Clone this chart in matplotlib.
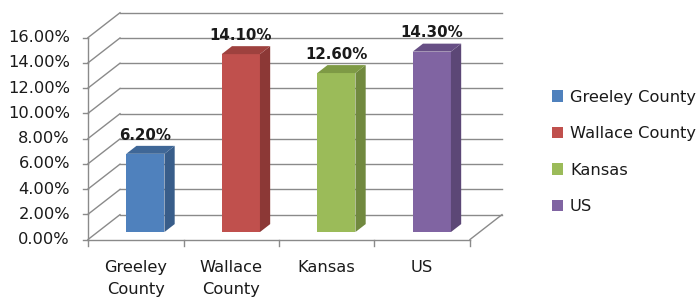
import matplotlib.pyplot as plt
from matplotlib.patches import Polygon, Patch

categories = ["Greeley\nCounty", "Wallace\nCounty", "Kansas", "US"]
legend_names = ["Greeley County", "Wallace County", "Kansas", "US"]
values = [6.2, 14.1, 12.6, 14.3]
value_labels = ["6.20%", "14.10%", "12.60%", "14.30%"]
y_ticks = [0, 2, 4, 6, 8, 10, 12, 14, 16]

front_cols = ["#4F81BD", "#C0504D", "#9BBB59", "#8064A2"]
side_cols = ["#385D8A", "#8C3836", "#71893F", "#5C4776"]
top_cols = ["#3F6797", "#9E413E", "#7E9A45", "#674F85"]

# depth of the 3d box (x in category units, y in percent)
DX = 0.335
DY = 1.97
BAR_W = 0.40
D0, D1 = 0.30, 0.62   # bar front/back as part of depth

grid_col = "#8a8a8a"
txt_col = "#1a1a1a"

fig = plt.figure(figsize=(6.99, 2.99), dpi=100)
ax = fig.add_axes([0, 0, 1, 1])
ax.set_xlim(-0.9215, 6.398)
ax.set_ylim(-4.715, 18.98)
ax.axis("off")

n = len(categories)

# walls / gridlines
for t in y_ticks:
    ax.plot([0, DX], [t, t + DY], color=grid_col, lw=1, zorder=1)
    ax.plot([DX, n + DX], [t + DY, t + DY], color=grid_col, lw=1, zorder=1)
    ax.plot([-0.055, 0], [t, t], color=grid_col, lw=1, zorder=1)
    ax.annotate(f"{t:.2f}%", (0, t), xytext=(-13, 0), textcoords="offset points",
                ha="right", va="center", fontsize=11.7, color=txt_col)
ax.plot([0, 0], [0, y_ticks[-1]], color=grid_col, lw=1, zorder=1)
ax.plot([0, n], [0, 0], color=grid_col, lw=1, zorder=1)
ax.plot([n, n + DX], [0, DY], color=grid_col, lw=1, zorder=1)
for i in range(n + 1):
    ax.plot([i, i], [0, -0.55], color=grid_col, lw=1, zorder=1)

# bars
for i, v in enumerate(values):
    c = i + 0.5
    fx0 = c - BAR_W / 2 + D0 * DX
    fx1 = c + BAR_W / 2 + D0 * DX
    fy0 = D0 * DY
    fy1 = v + D0 * DY
    ddx = (D1 - D0) * DX
    ddy = (D1 - D0) * DY
    ax.add_patch(Polygon([(fx0, fy0), (fx1, fy0), (fx1, fy1), (fx0, fy1)],
                         closed=True, fc=front_cols[i], ec="none", zorder=3))
    ax.add_patch(Polygon([(fx1, fy0), (fx1 + ddx, fy0 + ddy), (fx1 + ddx, fy1 + ddy), (fx1, fy1)],
                         closed=True, fc=side_cols[i], ec="none", zorder=3))
    ax.add_patch(Polygon([(fx0, fy1), (fx1, fy1), (fx1 + ddx, fy1 + ddy), (fx0 + ddx, fy1 + ddy)],
                         closed=True, fc=top_cols[i], ec="none", zorder=3))
    ax.annotate(value_labels[i], ((fx0 + fx1) / 2, fy1), xytext=(0, 13.5),
                textcoords="offset points", ha="center", va="center",
                fontsize=10.8, fontweight="bold", color=txt_col, zorder=4)
    ax.annotate(categories[i], (c, 0), xytext=(0, -14.5), textcoords="offset points",
                ha="center", va="top", fontsize=11.7, color=txt_col, linespacing=1.6)

handles = [Patch(fc=col, ec="none") for col in front_cols]
ax.legend(handles, legend_names, loc="center left", bbox_to_anchor=(552 / 699, 147 / 299),
          frameon=False, fontsize=11.7, handlelength=0.7, handleheight=0.7,
          handletextpad=0.4, labelspacing=1.33, borderpad=0, borderaxespad=0,
          labelcolor=txt_col)

fig.savefig("out.png", dpi=100)
